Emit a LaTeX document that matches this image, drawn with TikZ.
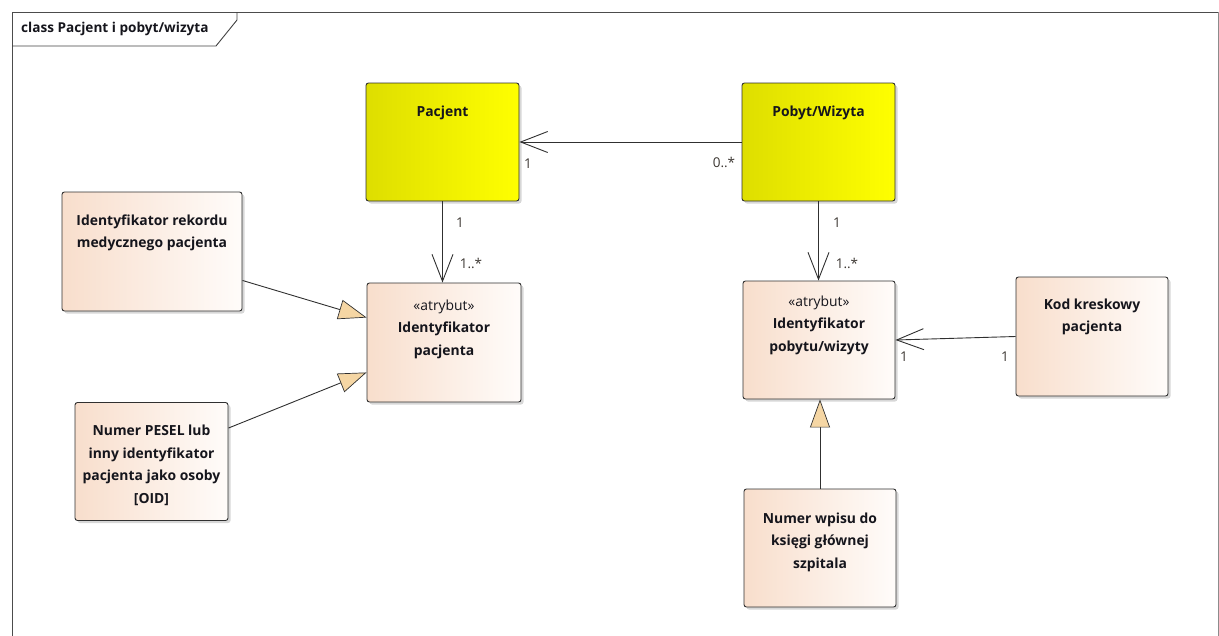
\documentclass[tikz,border=0pt]{standalone}
\usepackage{fontspec}
\setmainfont{Open Sans}
\usetikzlibrary{arrows.meta,calc,shadows}

\definecolor{lineC}{HTML}{303030}
\definecolor{txtC}{HTML}{15151C}
\definecolor{peachL}{HTML}{F8DECC}
\definecolor{peachR}{HTML}{FFFCFA}
\definecolor{yelL}{HTML}{DEDE00}
\definecolor{yelR}{HTML}{FFFF00}
\definecolor{genC}{HTML}{F5D6A4}
\definecolor{multC}{HTML}{3A3530}

\tikzset{
  umlbox/.style={draw=lineC, line width=0.9pt, rounded corners=2.5pt,
    minimum width=153pt, minimum height=118pt, inner sep=0pt,
    left color=peachL, right color=peachR,
    drop shadow={shadow xshift=2.5pt, shadow yshift=-2.5pt, opacity=0.35, fill=black!45}},
  classbox/.style={umlbox, left color=yelL, right color=yelR},
  title/.style={font=\fontsize{13.9}{22.4}\selectfont\bfseries, text=txtC, align=center, anchor=north, inner sep=0pt},
  assoc/.style={draw=lineC, line width=0.9pt, -{Straight Barb[length=27pt, width=21pt, line width=0.9pt]}},
  gen/.style={draw=lineC, line width=0.9pt, -{Triangle[length=28pt, width=20pt, fill=genC, line width=0.7pt]}},
  mult/.style={font=\fontsize{13.5}{15}\selectfont, text=multC, inner sep=0pt}
}
\newcommand{\stereotype}[1]{\textnormal{\fontsize{13.9}{22.4}\selectfont #1}}

\begin{document}
\begin{tikzpicture}[x=1pt, y=-1pt]
  \useasboundingbox (0,0) rectangle (1219,635);

  % diagram frame with its name tab
  \draw[draw=black!70, line width=1pt] (12,660) -- (12,12) -- (1218,12);
  \draw[draw=black!45, line width=1pt] (1218,12) -- (1218,660);
  \draw[draw=black!75, line width=0.9pt] (12,46) -- (216,46) -- (237,20) -- (237,12);
  \node[font=\fontsize{13.6}{15}\selectfont\bfseries, text=txtC, anchor=west, inner sep=0pt] (frametitle) at (21,29) {class Pacjent i pobyt/wizyta};

  % classes
  \node[classbox] (pac) at (442.5,142) {};
  \node[classbox] (pob) at (818.5,142) {};
  \node[umlbox, minimum width=154pt, minimum height=119pt] (idp) at (444,342.5) {};
  \node[umlbox, minimum width=180pt, minimum height=119pt] (rek) at (152,251.5) {};
  \node[umlbox] (pes) at (151.5,461.5) {};
  \node[umlbox, minimum width=152pt] (idw) at (819,340) {};
  \node[umlbox, minimum width=152pt, minimum height=119pt] (kod) at (1092,336.5) {};
  \node[umlbox, minimum width=152pt] (nwp) at (820,548) {};

  % class names
  \node[title] (pacT) at ($(pac.north)+(0,23)$) {Pacjent};
  \node[title] (pobT) at ($(pob.north)+(0,23)$) {Pobyt/Wizyta};
  \node[title] (idpT) at ($(idp.north)+(0,17)$) {\stereotype{«atrybut»}\\Identyfikator\\pacjenta};
  \node[title] (rekT) at ($(rek.north)+(0,23)$) {Identyfikator rekordu\\medycznego pacjenta};
  \node[title] (pesT) at ($(pes.north)+(0,23)$) {Numer PESEL lub\\inny identyfikator\\pacjenta jako osoby\\{[}OID{]}};
  \node[title] (idwT) at ($(idw.north)+(0,15)$) {\stereotype{«atrybut»}\\Identyfikator\\pobytu/wizyty};
  \node[title] (kodT) at ($(kod.north)+(0,22)$) {Kod kreskowy\\pacjenta};
  \node[title] (nwpT) at ($(nwp.north)+(0,24)$) {Numer wpisu do\\księgi głównej\\szpitala};

  % associations
  \draw[assoc] (pob.west) -- (pac.east);
  \draw[assoc] (pac.south) -- (pac.south |- idp.north);
  \draw[assoc] (pob.south) -- (pob.south |- idw.north);
  \draw[assoc] (kod.west) -- (idw.east);

  % generalizations
  \draw[gen] ($(rek.south east)+(0,-31)$) -- ($(idp.north west)+(0,35)$);
  \draw[gen] ($(pes.north east)+(0,26)$) -- ($(idp.south west)+(0,-30)$);
  \draw[gen] (nwp.north) -- (nwp.north |- idw.south);

  % multiplicities
  \node[mult] (m1) at (528,164) {1};
  \node[mult] (m2) at (724,162) {0..*};
  \node[mult] (m3) at (460,223) {1};
  \node[mult] (m4) at (471,263) {1..*};
  \node[mult] (m5) at (837,223) {1};
  \node[mult] (m6) at (847,263) {1..*};
  \node[mult] (m7) at (904,357) {1};
  \node[mult] (m8) at (1005,357) {1};
\end{tikzpicture}
\end{document}
